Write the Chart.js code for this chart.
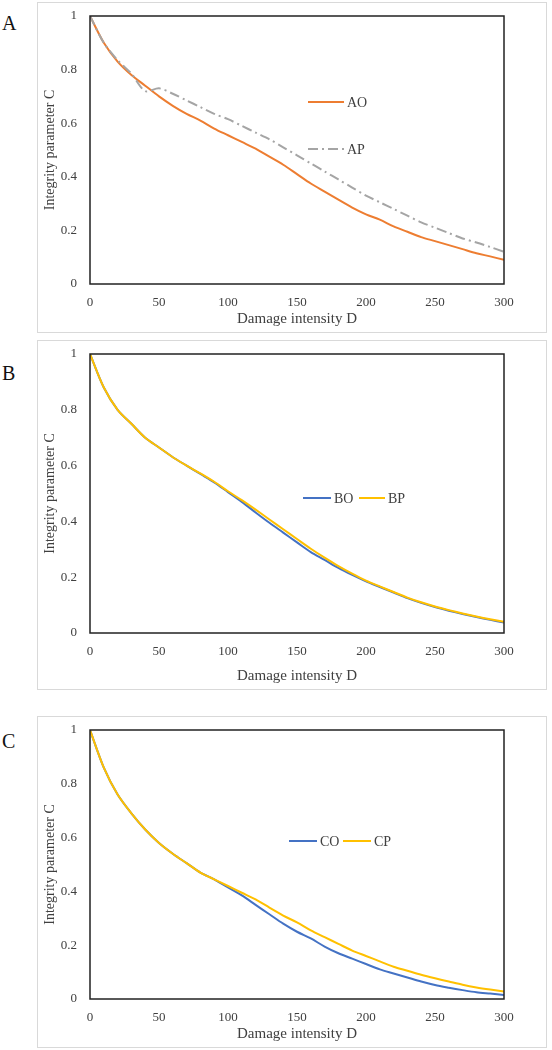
<!DOCTYPE html>
<html><head><meta charset="utf-8">
<script src="https://cdn.jsdelivr.net/npm/chart.js@4"></script>
<style>
body{margin:0;background:#fff;width:552px;height:1050px;position:relative;font-family:"Liberation Serif",serif}
.box{position:absolute;left:37px;width:510px;border:1.5px solid #d9d9d9;box-sizing:border-box}
.lab{position:absolute;left:2px;font-size:20px;color:#111}
canvas{display:block}
</style></head><body>
<div class="lab" style="top:12px">A</div>
<div class="lab" style="top:362px">B</div>
<div class="lab" style="top:730px">C</div>
<div class="box" style="top:2px;height:331px"><canvas id="ca"></canvas></div>
<div class="box" style="top:340px;height:350px"><canvas id="cb"></canvas></div>
<div class="box" style="top:716px;height:332px"><canvas id="cc"></canvas></div>
<script>
var D = [0,10,20,30,40,50,60,70,80,90,100,110,120,130,140,150,160,170,180,190,200,210,220,230,240,250,260,270,280,290,300];
var AO = [1,0.9,0.83,0.78,0.74,0.70,0.665,0.635,0.61,0.58,0.555,0.53,0.505,0.475,0.445,0.41,0.375,0.345,0.315,0.285,0.26,0.24,0.215,0.195,0.175,0.16,0.145,0.13,0.115,0.103,0.09];
var AP = [1,0.9,0.835,0.785,0.72,0.73,0.71,0.685,0.66,0.635,0.615,0.59,0.565,0.54,0.51,0.48,0.45,0.42,0.39,0.36,0.33,0.305,0.28,0.255,0.23,0.21,0.19,0.17,0.155,0.138,0.12];
var BO = [1,0.88,0.8,0.75,0.7,0.665,0.63,0.6,0.57,0.54,0.505,0.47,0.432,0.395,0.36,0.325,0.29,0.262,0.233,0.208,0.185,0.165,0.145,0.125,0.108,0.093,0.08,0.068,0.057,0.047,0.038];
var BP = [1,0.88,0.8,0.75,0.7,0.665,0.63,0.6,0.572,0.542,0.508,0.476,0.442,0.407,0.372,0.337,0.302,0.27,0.24,0.213,0.188,0.167,0.147,0.127,0.11,0.095,0.082,0.07,0.059,0.049,0.04];
var CO = [1,0.86,0.76,0.69,0.63,0.58,0.54,0.505,0.47,0.445,0.415,0.385,0.35,0.315,0.28,0.25,0.225,0.195,0.17,0.15,0.13,0.11,0.095,0.08,0.065,0.052,0.042,0.033,0.025,0.02,0.015];
var CP = [1,0.86,0.76,0.69,0.63,0.58,0.54,0.505,0.47,0.445,0.42,0.395,0.37,0.34,0.31,0.285,0.255,0.23,0.205,0.18,0.16,0.14,0.12,0.105,0.09,0.077,0.065,0.053,0.043,0.035,0.028];
var yTicks = [0,0.2,0.4,0.6,0.8,1];

function pts(arr){ return D.map(function(d,i){ return {x:d,y:arr[i]}; }); }

var txt = '#404040';
function make(id, sets, legend, bottomTitleH){
  var frame = {
    id:'frame',
    afterDraw: function(c){
      var a = c.chartArea, g = c.ctx;
      g.save();
      g.strokeStyle = '#222'; g.lineWidth = 1.5;
      g.strokeRect(a.left, a.top, a.right-a.left, a.bottom-a.top);
      g.font = '14px "Liberation Serif"'; g.fillStyle = txt; g.textBaseline = 'middle';
      legend.forEach(function(l){
        var ds = sets[l.i];
        g.strokeStyle = ds.color; g.lineWidth = 2;
        g.setLineDash(ds.dash || []);
        g.beginPath(); g.moveTo(l.x, l.y); g.lineTo(l.x+l.w, l.y); g.stroke();
        g.setLineDash([]);
        g.fillText(ds.label, l.x+l.w+3, l.y+1);
      });
      g.restore();
    }
  };
  new Chart(document.getElementById(id), {
    type:'line',
    data:{ datasets: sets.map(function(s, i){ return {
      label:s.label, data:pts(s.data), borderColor:s.color, borderWidth:2, order:-i,
      borderDash:s.dash || [], pointRadius:0, tension:0.3, fill:false }; }) },
    options:{
      responsive:true, maintainAspectRatio:false, animation:false,
      layout:{padding:{top:13,right:42,left:0,bottom:0}},
      plugins:{legend:{display:false}, tooltip:{enabled:false}},
      scales:{
        x:{type:'linear', min:0, max:300, grid:{display:false},
           border:{display:false},
           ticks:{stepSize:50, color:txt, font:{family:'Liberation Serif', size:13}, padding:3},
           title:{display:true, text:'Damage intensity D', color:txt, font:{family:'Liberation Serif', size:15}, padding:{top:2}},
           afterFit:function(s){ s.height = bottomTitleH; }},
        y:{min:0, max:1, grid:{display:false}, border:{display:false},
           afterBuildTicks:function(s){ s.ticks = yTicks.map(function(v){ return {value:v}; }); },
           ticks:{color:txt, font:{family:'Liberation Serif', size:13}, padding:5,
                  callback:function(v){ return String(Math.round(v*10)/10); }},
           title:{display:true, text:'Integrity parameter C', color:txt, font:{family:'Liberation Serif', size:14}},
           afterFit:function(s){ s.width = 52; }}
      }
    },
    plugins:[frame]
  });
}

make('ca', [
  {label:'AO', data:AO, color:'#ed7d31'},
  {label:'AP', data:AP, color:'#a5a5a5', dash:[10,4,2,4]}
], [{i:0,x:270,y:99,w:36},{i:1,x:270,y:146,w:36}], 48);

make('cb', [
  {label:'BO', data:BO, color:'#4472c4'},
  {label:'BP', data:BP, color:'#ffc000'}
], [{i:0,x:265,y:157,w:28},{i:1,x:321,y:157,w:26}], 56);

make('cc', [
  {label:'CO', data:CO, color:'#4472c4'},
  {label:'CP', data:CP, color:'#ffc000'}
], [{i:0,x:251,y:124,w:28},{i:1,x:305,y:124,w:28}], 48);
</script>
</body></html>
